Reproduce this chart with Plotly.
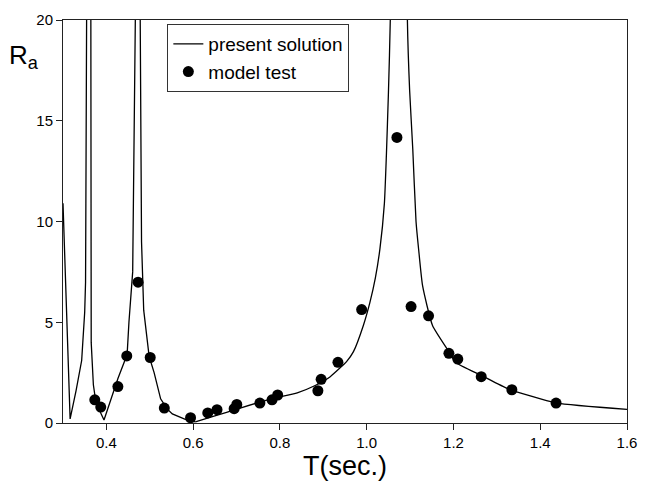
import plotly.graph_objects as go

# "present solution" curve, left (resonances at low period) part
curve_t_left = [0.3000, 0.3164, 0.3300, 0.3430, 0.3500, 0.3520, 0.3544, 0.3570, 0.3620,
                0.3642, 0.3650, 0.3700, 0.3760, 0.3945, 0.4100, 0.4264, 0.4478, 0.4520,
                0.4606, 0.4667, 0.4700, 0.4760, 0.4780, 0.4810, 0.4860, 0.4986, 0.5100,
                0.5250, 0.5400, 0.5520, 0.5820, 0.6050]
curve_r_left = [10.9, 0.2, 1.6, 3.1, 5.5, 7.0, 20.0, 40.0, 40.0,
                20.0, 4.0, 1.9, 1.0, 0.15, 1.2, 2.2, 3.4, 5.0,
                7.5, 20.0, 40.0, 40.0, 20.0, 9.0, 5.6, 3.3, 2.5,
                1.2, 0.7, 0.45, 0.18, 0.05]

# "present solution" curve, right part (main resonance)
curve_t_right = [0.6050, 0.6500, 0.7036, 0.7795, 0.8400, 0.8800, 0.9160, 0.9540, 0.9695,
                 0.9923, 1.0073, 1.0200, 1.0305, 1.0408, 1.0454, 1.0500, 1.0544, 1.0600,
                 1.0900, 1.0938, 1.0990, 1.1062, 1.1137, 1.1198, 1.1289, 1.1517, 1.1895,
                 1.2050, 1.2656, 1.3260, 1.4360, 1.6000]
curve_r_right = [0.05, 0.35, 0.71, 1.2, 1.5, 1.85, 2.3, 3.06, 3.54,
                 4.84, 5.97, 7.2, 8.64, 10.9, 13.3, 16.3, 20.0, 40.0,
                 40.0, 20.0, 16.5, 13.6, 10.0, 8.6, 6.8, 4.84, 3.54,
                 3.0, 2.35, 1.7, 1.0, 0.68]

# "model test" points
test_t = [0.3733, 0.3870, 0.4265, 0.4470, 0.4730, 0.5010, 0.5335, 0.5940, 0.6337,
          0.6550, 0.6945, 0.7006, 0.7538, 0.7818, 0.7948, 0.8875, 0.8950, 0.9337,
          0.9884, 1.0697, 1.1023, 1.1426, 1.1895, 1.2100, 1.2640, 1.3346, 1.4365]
test_r = [1.15, 0.79, 1.81, 3.33, 6.99, 3.25, 0.74, 0.26, 0.50,
          0.66, 0.71, 0.92, 0.99, 1.15, 1.39, 1.60, 2.17, 3.01,
          5.63, 14.17, 5.78, 5.32, 3.46, 3.17, 2.30, 1.65, 0.99]

x_ticks = [0.4, 0.6, 0.8, 1.0, 1.2, 1.4, 1.6]
y_ticks = [0, 5, 10, 15, 20]

FONT = "Liberation Sans, Arial, sans-serif"
AX = "#222222"

fig = go.Figure()
fig.add_trace(go.Scatter(x=curve_t_left, y=curve_r_left, mode="lines",
                         line=dict(color="black", width=1.3), name="present solution",
                         legendgroup="sol"))
fig.add_trace(go.Scatter(x=curve_t_right, y=curve_r_right, mode="lines",
                         line=dict(color="black", width=1.3, shape="spline", smoothing=0.5),
                         name="present solution", legendgroup="sol", showlegend=False))
fig.add_trace(go.Scatter(x=test_t, y=test_r, mode="markers",
                         marker=dict(color="black", size=11), name="model test"))

fig.update_layout(
    width=648, height=501,
    margin=dict(l=63, r=14, t=11, b=78),
    paper_bgcolor="white", plot_bgcolor="white",
    font=dict(family=FONT, color="black", size=15),
    showlegend=True,
    legend=dict(x=0.185, y=0.99, xanchor="left", yanchor="top",
                bordercolor="#333333", borderwidth=1, bgcolor="white",
                font=dict(size=19, family=FONT), tracegroupgap=0),
)
fig.update_xaxes(range=[0.3, 1.6], tickvals=x_ticks, ticktext=[f"{v:.1f}" for v in x_ticks],
                 showgrid=False, zeroline=False, showline=True, linecolor=AX, linewidth=1,
                 mirror=True, ticks="outside", ticklen=6, tickcolor=AX,
                 tickfont=dict(size=15),
                 title=dict(text="T(sec.)", font=dict(size=27), standoff=6))
fig.update_yaxes(range=[0, 20], tickvals=y_ticks,
                 showgrid=False, zeroline=False, showline=True, linecolor=AX, linewidth=1,
                 mirror=True, ticks="outside", ticklen=6, tickcolor=AX,
                 tickfont=dict(size=15))
fig.add_annotation(text="R<sub>a</sub>", xref="paper", yref="paper",
                   x=-0.1, y=0.91, xanchor="left", yanchor="middle",
                   showarrow=False, font=dict(size=26, family=FONT))

fig.write_html("out.html")
